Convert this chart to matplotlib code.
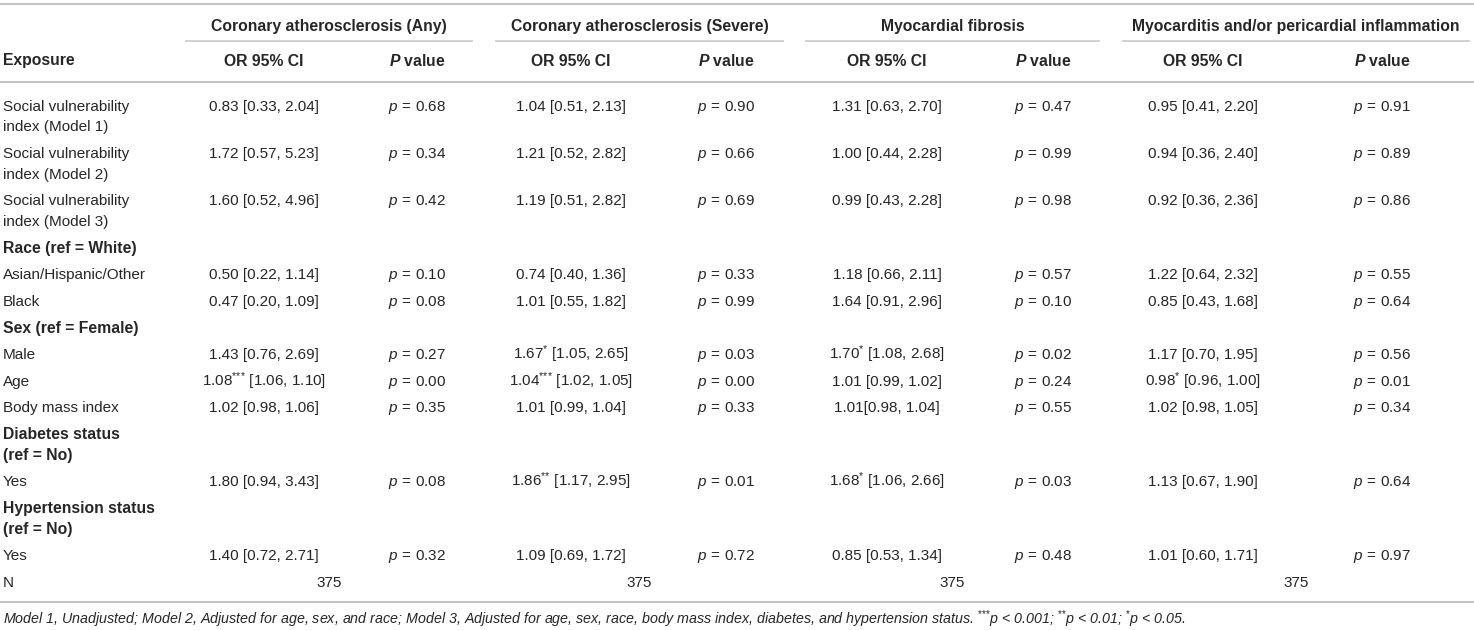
import re
import matplotlib
matplotlib.use("Agg")
import matplotlib.pyplot as plt

# ------------------------------
# fonts
# ------------------------------
plt.rcParams['font.family'] = ['Liberation Sans', 'DejaVu Sans']
plt.rcParams['mathtext.fontset'] = 'custom'
plt.rcParams['mathtext.rm'] = 'Liberation Sans'
plt.rcParams['mathtext.it'] = 'Liberation Sans:italic'
plt.rcParams['mathtext.bf'] = 'Liberation Sans:bold'
plt.rcParams['mathtext.bfit'] = 'Liberation Sans:italic:bold'

# ------------------------------
# table data
# ------------------------------
groups = ["Coronary atherosclerosis (Any)", "Coronary atherosclerosis (Severe)",
          "Myocardial fibrosis", "Myocarditis and/or pericardial inflammation"]

exposure = ["Social vulnerability\nindex (Model 1)", "Social vulnerability\nindex (Model 2)",
            "Social vulnerability\nindex (Model 3)", "Race (ref = White)",
            "Asian/Hispanic/Other", "Black", "Sex (ref = Female)", "Male", "Age",
            "Body mass index", "Diabetes status\n(ref = No)", "Yes",
            "Hypertension status\n(ref = No)", "Yes", "N"]
section_rows = ["Race (ref = White)", "Sex (ref = Female)",
                "Diabetes status\n(ref = No)", "Hypertension status\n(ref = No)"]

or_any = ["0.83 [0.33, 2.04]", "1.72 [0.57, 5.23]", "1.60 [0.52, 4.96]", "",
          "0.50 [0.22, 1.14]", "0.47 [0.20, 1.09]", "", "1.43 [0.76, 2.69]",
          "1.08*** [1.06, 1.10]", "1.02 [0.98, 1.06]", "", "1.80 [0.94, 3.43]", "",
          "1.40 [0.72, 2.71]", ""]
p_any = ["0.68", "0.34", "0.42", "", "0.10", "0.08", "", "0.27", "0.00", "0.35", "",
         "0.08", "", "0.32", ""]

or_severe = ["1.04 [0.51, 2.13]", "1.21 [0.52, 2.82]", "1.19 [0.51, 2.82]", "",
             "0.74 [0.40, 1.36]", "1.01 [0.55, 1.82]", "", "1.67* [1.05, 2.65]",
             "1.04*** [1.02, 1.05]", "1.01 [0.99, 1.04]", "", "1.86** [1.17, 2.95]", "",
             "1.09 [0.69, 1.72]", ""]
p_severe = ["0.90", "0.66", "0.69", "", "0.33", "0.99", "", "0.03", "0.00", "0.33", "",
            "0.01", "", "0.72", ""]

or_fibrosis = ["1.31 [0.63, 2.70]", "1.00 [0.44, 2.28]", "0.99 [0.43, 2.28]", "",
               "1.18 [0.66, 2.11]", "1.64 [0.91, 2.96]", "", "1.70* [1.08, 2.68]",
               "1.01 [0.99, 1.02]", "1.01[0.98, 1.04]", "", "1.68* [1.06, 2.66]", "",
               "0.85 [0.53, 1.34]", ""]
p_fibrosis = ["0.47", "0.99", "0.98", "", "0.57", "0.10", "", "0.02", "0.24", "0.55", "",
              "0.03", "", "0.48", ""]

or_myo = ["0.95 [0.41, 2.20]", "0.94 [0.36, 2.40]", "0.92 [0.36, 2.36]", "",
          "1.22 [0.64, 2.32]", "0.85 [0.43, 1.68]", "", "1.17 [0.70, 1.95]",
          "0.98* [0.96, 1.00]", "1.02 [0.98, 1.05]", "", "1.13 [0.67, 1.90]", "",
          "1.01 [0.60, 1.71]", ""]
p_myo = ["0.91", "0.89", "0.86", "", "0.55", "0.64", "", "0.56", "0.01", "0.34", "",
         "0.64", "", "0.97", ""]

n_obs = [375, 375, 375, 375]

footnote = ("Model 1, Unadjusted; Model 2, Adjusted for age, sex, and race; Model 3, Adjusted "
            "for age, sex, race, body mass index, diabetes, and hypertension status. "
            "***p < 0.001; **p < 0.01; *p < 0.05.")

or_cols = [or_any, or_severe, or_fibrosis, or_myo]
p_cols = [p_any, p_severe, p_fibrosis, p_myo]

# ------------------------------
# layout (pixels)
# ------------------------------
W, H = 1474, 630
group_span = [(185, 473), (495, 784), (805, 1100), (1122, 1470)]
or_x = [264, 571, 887, 1203]
p_x = [417, 726, 1043, 1382]
row_h = 26.6
line_h = 20.8
first_row = 105
base = 5.5          # centre of caps -> baseline
fs = 11
fs_head = 11.3
txt = "#262626"
rule = "#c4c4c4"


def sup_stars(s):
    # braces keep mathtext from spacing the * like a binary operator
    return re.sub(r"(\*+)", lambda m: "$^{" + "{*}" * len(m.group(1)) + "}$", s)


fig = plt.figure(figsize=(W / 100, H / 100), dpi=100)
ax = fig.add_axes([0, 0, 1, 1])
ax.set_xlim(0, W)
ax.set_ylim(H, 0)
ax.axis("off")

# rules
for y in (3.5, 82, 602):
    ax.plot([0, W], [y, y], color=rule, lw=1.5, solid_capstyle="butt")
for x0, x1 in group_span:
    ax.plot([x0, x1], [41, 41], color=rule, lw=1.1, solid_capstyle="butt")

# header
for (x0, x1), g in zip(group_span, groups):
    ax.text((x0 + x1) / 2, 25 + base, g, ha="center", va="baseline",
            fontsize=fs_head, fontweight="bold", color=txt)
ax.text(3, 60 + base, "Exposure", ha="left", va="baseline",
        fontsize=fs_head, fontweight="bold", color=txt)
for i in range(4):
    ax.text(or_x[i], 60 + base, "OR 95% CI", ha="center", va="baseline",
            fontsize=fs_head, fontweight="bold", color=txt)
    ax.text(p_x[i], 60 + base, r"$\mathbfit{P}$ value", ha="center", va="baseline",
            fontsize=fs_head, fontweight="bold", color=txt)

# body
y = first_row
for r, label in enumerate(exposure):
    lines = label.split("\n")
    bold = label in section_rows
    for k, ln in enumerate(lines):
        ax.text(3, y + k * line_h + base, ln, ha="left", va="baseline",
                fontsize=fs_head if bold else fs,
                fontweight="bold" if bold else "normal", color=txt)
    if label == "N":
        for (x0, x1), n in zip(group_span, n_obs):
            ax.text((x0 + x1) / 2, y + base, str(n), ha="center", va="baseline",
                    fontsize=fs, color=txt)
    else:
        for i in range(4):
            if or_cols[i][r]:
                ax.text(or_x[i], y + base, sup_stars(or_cols[i][r]), ha="center",
                        va="baseline", fontsize=fs, color=txt)
            if p_cols[i][r]:
                ax.text(p_x[i], y + base, r"$p\,=\,$" + p_cols[i][r], ha="center",
                        va="baseline", fontsize=fs, color=txt)
    y += row_h + line_h * (len(lines) - 1)

# footnote
ax.text(3, 618 + base, sup_stars(footnote), ha="left", va="baseline",
        fontsize=10.3, style="italic", color=txt)

fig.savefig("out.png", dpi=100)
